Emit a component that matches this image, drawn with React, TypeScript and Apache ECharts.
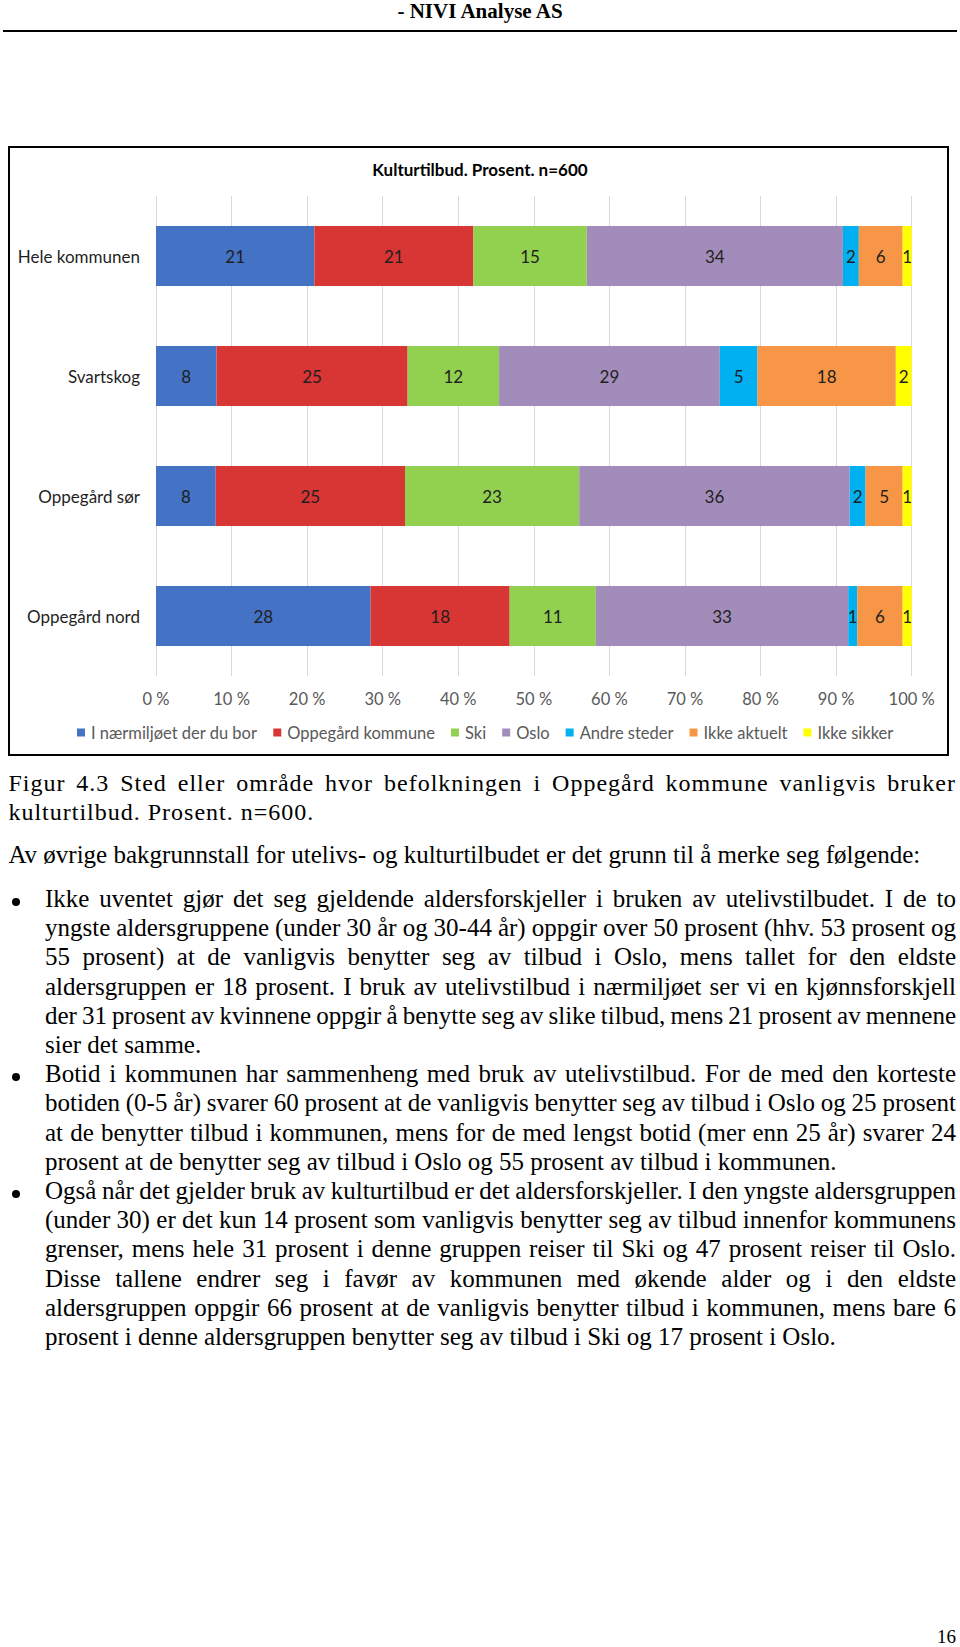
import React, { useEffect, useLayoutEffect, useRef } from "react";
import * as echarts from "echarts";

// ---------- chart data ----------
const categories = ["Hele kommunen", "Svartskog", "Oppegård sør", "Oppegård nord"];
const seriesNames = [
  "I nærmiljøet der du bor",
  "Oppegård kommune",
  "Ski",
  "Oslo",
  "Andre steder",
  "Ikke aktuelt",
  "Ikke sikker",
];
const seriesColors = ["#4472C4", "#D83535", "#92D050", "#A28CBA", "#00B0F0", "#F79646", "#FFFF00"];
const naermiljoet = [20.95, 8.0, 7.9, 28.4];
const oppegardKommune = [21.05, 25.3, 25.05, 18.4];
const ski = [15.0, 12.1, 23.05, 11.4];
const oslo = [33.9, 29.2, 35.8, 33.4];
const andreSteder = [2.1, 5.0, 2.1, 1.2];
const ikkeAktuelt = [5.8, 18.3, 4.9, 6.0];
const ikkeSikker = [1.2, 2.1, 1.2, 1.2];
const seriesValues = [naermiljoet, oppegardKommune, ski, oslo, andreSteder, ikkeAktuelt, ikkeSikker];
const xTickValues = [0, 10, 20, 30, 40, 50, 60, 70, 80, 90, 100];
const xTickLabels = ["0 %", "10 %", "20 %", "30 %", "40 %", "50 %", "60 %", "70 %", "80 %", "90 %", "100 %"];
const chartTitle = "Kulturtilbud. Prosent. n=600";

// ---------- page text ----------
const headerText = "- NIVI Analyse AS";
const captionLines = [
  "Figur 4.3 Sted eller område hvor befolkningen i Oppegård kommune vanligvis bruker",
  "kulturtilbud. Prosent. n=600.",
];
const introLine = "Av øvrige bakgrunnstall for utelivs- og kulturtilbudet er det grunn til å merke seg følgende:";
const bullet1 = [
  "Ikke uventet gjør det seg gjeldende aldersforskjeller i bruken av utelivstilbudet. I de to",
  "yngste aldersgruppene (under 30 år og 30-44 år) oppgir over 50 prosent (hhv. 53 prosent og",
  "55 prosent) at de vanligvis benytter seg av tilbud i Oslo, mens tallet for den eldste",
  "aldersgruppen er 18 prosent. I bruk av utelivstilbud i nærmiljøet ser vi en kjønnsforskjell",
  "der 31 prosent av kvinnene oppgir å benytte seg av slike tilbud, mens 21 prosent av mennene",
  "sier det samme.",
];
const bullet2 = [
  "Botid i kommunen har sammenheng med bruk av utelivstilbud. For de med den korteste",
  "botiden (0-5 år) svarer 60 prosent at de vanligvis benytter seg av tilbud i Oslo og 25 prosent",
  "at de benytter tilbud i kommunen, mens for de med lengst botid (mer enn 25 år) svarer 24",
  "prosent at de benytter seg av tilbud i Oslo og 55 prosent av tilbud i kommunen.",
];
const bullet3 = [
  "Også når det gjelder bruk av kulturtilbud er det aldersforskjeller. I den yngste aldersgruppen",
  "(under 30) er det kun 14 prosent som vanligvis benytter seg av tilbud innenfor kommunens",
  "grenser, mens hele 31 prosent i denne gruppen reiser til Ski og 47 prosent reiser til Oslo.",
  "Disse tallene endrer seg i favør av kommunen med økende alder og i den eldste",
  "aldersgruppen oppgir 66 prosent at de vanligvis benytter tilbud i kommunen, mens bare 6",
  "prosent i denne aldersgruppen benytter seg av tilbud i Ski og 17 prosent i Oslo.",
];
const bullets = [bullet1, bullet2, bullet3];
const pageNumber = "16";

const SERIF = '"Liberation Serif", "Times New Roman", serif';
const SANS = 'Lato, "Noto Sans", sans-serif';

function justifyLines(root: HTMLElement) {
  root.querySelectorAll<HTMLElement>("[data-j]").forEach((el) => {
    el.style.wordSpacing = "0px";
    const target = parseFloat(el.dataset.j || "0");
    const w = el.getBoundingClientRect().width;
    const spaces = (el.textContent || "").split(" ").length - 1;
    if (spaces > 0) el.style.wordSpacing = `${(target - w) / spaces}px`;
  });
}

function Chart() {
  const ref = useRef<HTMLDivElement>(null);
  useEffect(() => {
    if (!ref.current) return;
    const chart = echarts.init(ref.current, undefined, { renderer: "svg" });
    const option: any = {
      animation: false,
      title: {
        text: chartTitle,
        left: "center",
        top: 16,
        textStyle: { fontFamily: SANS, fontSize: 17, fontWeight: "bold", color: "#000" },
      },
      grid: { left: 156, right: 48.3, top: 56, height: 480, containLabel: false },
      legend: {
        data: seriesNames,
        left: 72,
        top: 579,
        itemWidth: 8,
        itemHeight: 8,
        itemGap: 16,
        icon: "rect",
        textStyle: { fontFamily: SANS, fontSize: 16.5, color: "#595959", padding: [0, 0, 0, 1] },
      },
      xAxis: {
        type: "value",
        min: 0,
        max: 100,
        interval: 10,
        axisLine: { show: false },
        axisTick: { show: false },
        splitLine: { show: true, lineStyle: { color: "#D9D9D9", width: 1 } },
        axisLabel: {
          margin: 14,
          fontFamily: SANS,
          fontSize: 16.5,
          color: "#595959",
          formatter: (v: number) => xTickLabels[xTickValues.indexOf(v)] ?? `${v} %`,
        },
      },
      yAxis: {
        type: "category",
        data: categories,
        inverse: true,
        axisLine: { show: false },
        axisTick: { show: false },
        axisLabel: { margin: 16, fontFamily: SANS, fontSize: 17, color: "#1F1F1F" },
      },
      graphic: [
        {
          type: "rect",
          shape: { x: 9, y: 7, width: 939, height: 608 },
          style: { fill: "none", stroke: "#000", lineWidth: 2 },
          silent: true,
        },
      ],
      series: seriesNames.map((name, i) => ({
        name,
        type: "bar",
        stack: "total",
        barWidth: 60,
        itemStyle: { color: seriesColors[i] },
        label: {
          show: true,
          position: "inside",
          fontFamily: SANS,
          fontSize: 17,
          color: "#1F1F1F",
          formatter: (p: any) => String(Math.round(p.value)),
        },
        data: seriesValues[i],
      })),
    };
    chart.setOption(option);
    return () => chart.dispose();
  }, []);
  return (
    <div
      ref={ref}
      style={{ position: "absolute", left: 0, top: 140, width: 960, height: 620 }}
    />
  );
}

export default function App() {
  const rootRef = useRef<HTMLDivElement>(null);
  useLayoutEffect(() => {
    if (!rootRef.current) return;
    const root = rootRef.current;
    justifyLines(root);
    if ((document as any).fonts && (document as any).fonts.ready) {
      (document as any).fonts.ready.then(() => justifyLines(root));
    }
  }, []);

  const BODY_LH = 29.2;
  const bodyLeft = 45;
  const bodyRight = 956;
  const bodyTop0 = 884;
  const lineStyle: React.CSSProperties = {
    position: "absolute",
    whiteSpace: "nowrap",
    fontFamily: SERIF,
    fontSize: 25,
    lineHeight: `${BODY_LH}px`,
    color: "#000",
  };

  const bulletEls: React.ReactNode[] = [];
  let k = 0;
  bullets.forEach((lines, bi) => {
    lines.forEach((line, li) => {
      const top = bodyTop0 + k * BODY_LH;
      if (li === 0) {
        bulletEls.push(
          <div
            key={`d${bi}`}
            style={{
              position: "absolute",
              left: 12,
              top: top + 14,
              width: 8,
              height: 8,
              borderRadius: "50%",
              background: "#000",
            }}
          />
        );
      }
      const last = li === lines.length - 1;
      bulletEls.push(
        <div key={`l${bi}-${li}`} style={{ ...lineStyle, left: bodyLeft, top }}>
          <span data-j={last ? undefined : String(bodyRight - bodyLeft)}>{line}</span>
        </div>
      );
      k++;
    });
  });

  return (
    <div
      ref={rootRef}
      style={{
        position: "absolute",
        left: 0,
        top: 0,
        width: 960,
        height: 1647,
        background: "#fff",
        overflow: "hidden",
      }}
    >
      <div
        style={{
          position: "absolute",
          left: 0,
          top: 1.2,
          width: 960,
          textAlign: "center",
          fontFamily: SERIF,
          fontWeight: "bold",
          fontSize: 21,
          lineHeight: "21px",
          color: "#000",
        }}
      >
        {headerText}
      </div>
      <div style={{ position: "absolute", left: 3, top: 30, width: 954, height: 2, background: "#000" }} />

      <Chart />

      {captionLines.map((line, i) => (
        <div
          key={`c${i}`}
          style={{ ...lineStyle, fontSize: 24, left: 8.4, top: 769.3 + i * 28.5, letterSpacing: "1px" }}
        >
          <span data-j={i === captionLines.length - 1 ? undefined : String(956 - 8.4)}>{line}</span>
        </div>
      ))}

      <div style={{ ...lineStyle, left: 8.4, top: 840.3 }}>{introLine}</div>

      {bulletEls}

      <div
        style={{
          position: "absolute",
          right: 4,
          top: 1627,
          fontFamily: SERIF,
          fontSize: 19,
          lineHeight: "19px",
          color: "#000",
        }}
      >
        {pageNumber}
      </div>
    </div>
  );
}
